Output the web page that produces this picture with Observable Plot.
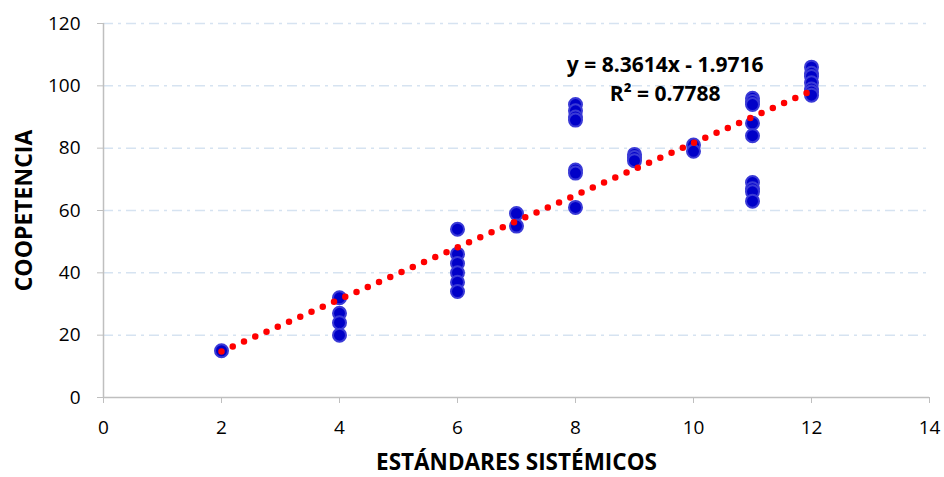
<!DOCTYPE html>
<html><head><meta charset="utf-8">
<script src="https://cdn.jsdelivr.net/npm/d3@7"></script>
<script src="https://cdn.jsdelivr.net/npm/@observablehq/plot@0.6"></script>
<style>
body{margin:0;background:#fff;}
svg{font-family:"Open Sans",sans-serif;}
</style></head><body><div id="chart"></div>
<script>
const xValues = [2, 4,4,4,4, 6,6,6,6,6,6, 7,7, 8,8,8,8,8,8,8, 9,9,9, 10,10, 11,11,11,11,11,11,11,11,11, 12,12,12,12,12,12,12];
const yValues = [15, 32,27,24,20, 54,46,43,40,37,34, 59,55, 94,92,90,89,73,72,61, 78,77,76, 81,79, 96,95,94,88,84,69,67,66,63, 106,104,103,101,99,98,97];
const trendSlope = 8.3614;
const trendIntercept = -1.9716;
const trendX = [2, 12];
const equationLines = ["y = 8.3614x - 1.9716", "R² = 0.7788"];
const equationPos = [{x: 9.52, y: 106.5}, {x: 9.52, y: 97.2}];
const xTicks = [0,2,4,6,8,10,12,14];
const yTicks = [0,20,40,60,80,100,120];

const pts = xValues.map((x,i)=>({x, y: yValues[i]}));
const trend = trendX.map(x=>({x, y: trendSlope*x + trendIntercept}));
const eq = equationLines.map((t,i)=>({t, ...equationPos[i]}));

const chart = Plot.plot({
  width: 944, height: 477,
  marginLeft: 103, marginRight: 15, marginTop: 23, marginBottom: 80,
  style: {fontSize: "19px", fontFamily: "Open Sans, sans-serif", color: "#000"},
  x: {domain: [0,14], ticks: xTicks, label: null},
  y: {domain: [0,120], ticks: yTicks, label: null},
  marks: [
    Plot.gridY(yTicks.filter(d=>d>0), {stroke: "#d6e3f1", strokeOpacity: 1, strokeWidth: 1.5, strokeDasharray: "10 5 3 5"}),
    Plot.axisX({ticks: xTicks, tickSize: 6, tickPadding: 17, stroke: "#bfbfbf", fontSize: 19}),
    Plot.axisY({ticks: yTicks, tickSize: 6, tickPadding: 17, stroke: "#bfbfbf", fontSize: 19}),
    Plot.ruleY([0], {stroke: "#bfbfbf", strokeWidth: 1.5}),
    Plot.ruleX([0], {stroke: "#bfbfbf", strokeWidth: 1.5}),
    Plot.dot(pts, {x: "x", y: "y", r: 6.5, fill: "#0000c8", stroke: "#3a3ad6", strokeWidth: 2}),
    Plot.line(trend, {x: "x", y: "y", stroke: "#ff0000", strokeWidth: 6.5, strokeDasharray: "0 12.3", strokeLinecap: "round"}),
    Plot.text(eq, {x: "x", y: "y", text: "t", fontSize: 21, fontWeight: "bold", fill: "#000"}),
    Plot.text(["ESTÁNDARES SISTÉMICOS"], {frameAnchor: "bottom", dy: 72, fontSize: 22.5, fontWeight: "bold", fill: "#000"}),
    Plot.text(["COOPETENCIA"], {frameAnchor: "left", textAnchor: "middle", dx: -79, rotate: -90, fontSize: 23, fontWeight: "bold", fill: "#000"})
  ]
});
document.getElementById("chart").append(chart);
</script></body></html>
